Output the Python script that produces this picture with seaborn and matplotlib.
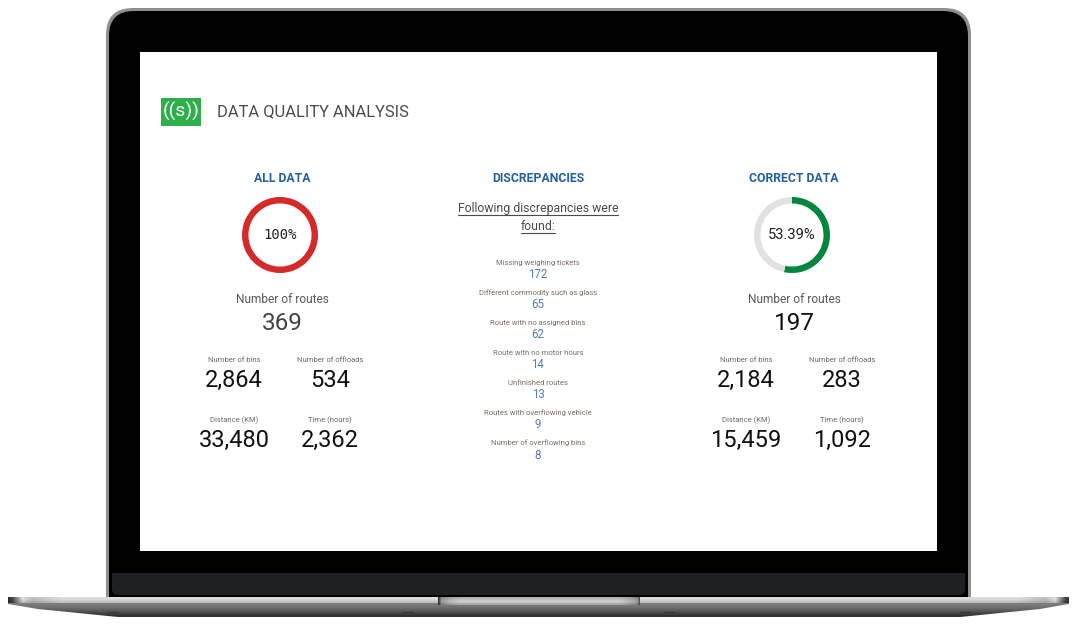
import numpy as np
import matplotlib
matplotlib.use("Agg")
import matplotlib.pyplot as plt
from matplotlib.patches import FancyBboxPatch, Rectangle, PathPatch
from matplotlib.path import Path
import seaborn as sns

sns.set_theme(style="white")

title = "DATA QUALITY ANALYSIS"
logo_text = "((s))"
column_titles = ["ALL DATA", "DISCREPANCIES", "CORRECT DATA"]
intro_lines = ["Following discrepancies were", "found:"]
gauge_labels = ["100%", "53.39%"]
gauge_all = [100]
gauge_correct = [53.39, 46.61]
routes_label = "Number of routes"
routes_values = ["369", "197"]
kpi_labels = ["Number of bins", "Number of offloads", "Distance (KM)", "Time (hours)"]
kpi_all = ["2,864", "534", "33,480", "2,362"]
kpi_correct = ["2,184", "283", "15,459", "1,092"]
disc_labels = ["Missing weighing tickets", "Different commodity such as glass",
               "Route with no assigned bins", "Route with no motor hours",
               "Unfinished routes", "Routes with overflowing vehicle",
               "Number of overflowing bins"]
disc_values = [172, 65, 62, 14, 13, 9, 8]

W, H = 1082, 632
SANS = "Roboto"
MONO = "DejaVu Sans Mono"
fig = plt.figure(figsize=(W / 100, H / 100), dpi=100, facecolor="white")
ax = fig.add_axes([0, 0, 1, 1])
ax.set_xlim(0, W)
ax.set_ylim(H, 0)
ax.axis("off")


def gradient(x0, x1, y0, y1, arr, clip=None, z=1):
    im = ax.imshow(np.asarray(arr, dtype=float), extent=(x0, x1, y1, y0), cmap="gray",
                   vmin=0, vmax=255, aspect="auto", interpolation="bilinear", zorder=z)
    if clip is not None:
        im.set_clip_path(clip)
    return im


# laptop lid
ax.add_patch(FancyBboxPatch((106 + 27, 8 + 27), 865 - 54, 620 - 54,
                            boxstyle="round,pad=27,rounding_size=27",
                            fc="#8f8f8f", ec="none", zorder=2))
ax.add_patch(FancyBboxPatch((109 + 25, 11 + 25), 859 - 50, 620 - 50,
                            boxstyle="round,pad=25,rounding_size=25",
                            fc="#000000", ec="none", zorder=3))
ax.add_patch(Rectangle((140, 52), 797, 499, fc="white", ec="none", zorder=4))
ax.add_patch(Rectangle((112, 573), 853, 10, fc="#1f2023", ec="none", zorder=4))
ax.add_patch(FancyBboxPatch((112 + 6, 578 + 6), 853 - 12, 5,
                            boxstyle="round,pad=6,rounding_size=6",
                            fc="#1f2023", ec="none", zorder=4))
ax.add_patch(Rectangle((0, 597), W, 40, fc="white", ec="none", zorder=5))

# laptop base
base = Path([(8, 597), (1069, 597), (1069, 604), (1040, 609), (960, 617), (118, 617),
             (38, 609), (8, 604), (8, 597)])
bp = PathPatch(base, fc="none", ec="none", zorder=6)
ax.add_patch(bp)
gradient(8, 1069, 603, 617, [[125], [112], [95], [72], [48]], clip=bp, z=6)
xs = np.arange(8, 1069)
strip = np.interp(xs, [8, 12, 22, 32, 60, 1017, 1045, 1055, 1065, 1069],
                  [50, 70, 225, 190, 222, 222, 190, 225, 70, 50])
gradient(8, 1069, 597, 603, np.vstack([strip, strip * 0.96, strip * 0.85]), clip=bp, z=7)
notch = np.interp(np.arange(438, 640), [438, 441, 450, 460, 618, 628, 637, 640],
                  [50, 150, 180, 198, 198, 180, 150, 50])
gradient(438, 640, 597, 605, np.vstack([notch * 0.9, notch, notch * 1.05, notch * 0.85]), z=8)
for x in (108, 403, 664, 960):
    ax.plot([x, x + 10], [611.5, 611.5], color="#333333", lw=0.8, zorder=9)

# dashboard header
ax.add_patch(Rectangle((161, 98), 40, 28, fc="#2db04b", ec="none", zorder=10))
ax.text(181, 111.5, logo_text, color="white", fontsize=14, family=SANS,
        ha="center", va="center", zorder=11)
ax.text(217, 112, title, color="#4a4a4a", fontsize=11.9, family=SANS,
        ha="left", va="center", zorder=11)


def t(x, y, s, size, color, family=SANS, weight="normal"):
    return ax.text(x, y, s, fontsize=size, color=color, family=family, weight=weight,
                   ha="center", va="center", zorder=11)


BLUE = "#23609f"
for x, s in zip((282, 538, 794), column_titles):
    t(x, 178.5, s, 8.8, BLUE, weight="bold")

# underlined intro
for y, s in zip((208.5, 226.5), intro_lines):
    txt = t(538, y, s, 8.8, "#4a4a4a")
    fig.canvas.draw()
    bb = txt.get_window_extent()
    ax.plot([bb.x0, bb.x1], [y + 6.5, y + 6.5], color="#4a4a4a", lw=0.8, zorder=11)

# discrepancy list
for i, (lab, val) in enumerate(zip(disc_labels, disc_values)):
    t(538, 262.5 + i * 30.1, lab, 5.5, "#7a6f66")
    t(538, 274.5 + i * 30.1, str(val), 8.3, "#4f7fb5")


def donut(cx, cy, r, values, colors):
    a = fig.add_axes([(cx - r) / W, 1 - (cy + r) / H, 2 * r / W, 2 * r / H], zorder=5)
    a.pie(values, colors=colors, startangle=90, counterclock=False, radius=1,
          wedgeprops=dict(width=0.17, linewidth=0))
    a.set_xlim(-1, 1)
    a.set_ylim(-1, 1)
    a.axis("off")
    return a


donut(280, 235, 38, gauge_all, ["#d42a2a"])
donut(792, 235, 38, gauge_correct, ["#00873d", "#e1e1e1"])
t(280, 235, gauge_labels[0], 10, "#222222", family=MONO)
t(792, 235, gauge_labels[1], 10.6, "#222222")

COLS = {"left": (234, 330, 282), "right": (746, 842, 794)}
for (x0, x1, xc), kv, rv, rc in zip(COLS.values(), (kpi_all, kpi_correct), routes_values,
                                    ("#444444", "#111111")):
    t(xc, 299.5, routes_label, 8.6, "#5a5a5a")
    t(xc, 323, rv, 17.5, rc)
    for (x, ly, vy), lab, val in zip(((x0, 360.5, 380.5), (x1, 360.5, 380.5),
                                      (x0, 420.5, 440.5), (x1, 420.5, 440.5)),
                                     kpi_labels, kv):
        t(x, ly, lab, 5.5, "#6a6a6a")
        t(x, vy, val, 17, "#111111")

fig.savefig("out.png", dpi=100, facecolor="white")
